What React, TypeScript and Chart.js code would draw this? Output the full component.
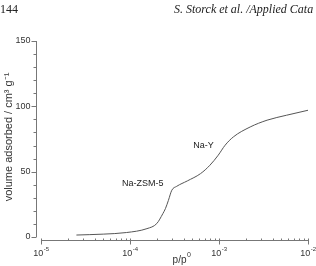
import React, { useEffect, useRef } from "react";
import { Chart, registerables } from "chart.js";

Chart.register(...registerables);

// Relative pressure p/p0 and adsorbed volume (cm3 g-1)
const relativePressure = [
  2.5e-5, 5.0e-5, 9.1e-5, 1.55e-4, 2.0e-4, 2.34e-4, 2.5e-4, 2.7e-4, 2.95e-4,
  3.35e-4, 4.4e-4, 6.2e-4, 7.9e-4, 9.8e-4, 1.17e-3, 1.45e-3, 2.24e-3, 3.47e-3,
  5.75e-3, 1e-2,
];
const volumeAdsorbed = [
  1.5, 2.2, 3.4, 6.4, 10.3, 17.9, 21.7, 28, 35.8, 38.8, 42.9, 48.5, 54.9, 62.6,
  70.2, 76.6, 84.2, 89.4, 93.2, 97,
];
const xDecadeExponents = [-5, -4, -3, -2];
const yMajorTicks = [0, 50, 100, 150];
const yMinorTicks = [10, 20, 30, 40, 60, 70, 80, 90, 110, 120, 130, 140];
const annotationLabels = ["Na-Y", "Na-ZSM-5"];
const annotationX = [6.7e-4, 1.39e-4];
const annotationY = [70.2, 40.9];
const yAxisTitle = "volume adsorbed / cm\u00B3 g\u207B\u00B9";
const headerLeft = "144";
const headerRight = "S. Storck et al. /Applied Cata";

const SANS = '"Liberation Sans", Arial, sans-serif';
const SERIF = '"Liberation Serif", "Times New Roman", serif';

const axesPlugin = {
  id: "customAxes",
  afterDraw(chart: any) {
    const ctx = chart.ctx as CanvasRenderingContext2D;
    const xs = chart.scales.x;
    const ys = chart.scales.y;
    const area = chart.chartArea;
    ctx.save();
    const axisColor = "#777";
    const textColor = "#333";

    // header
    ctx.fillStyle = "#222";
    ctx.font = `12px ${SERIF}`;
    ctx.textBaseline = "alphabetic";
    ctx.textAlign = "left";
    ctx.fillText(headerLeft, 0, 13);
    ctx.font = `italic 12px ${SERIF}`;
    ctx.fillText(headerRight, 174, 13);

    // y axis
    const yx = Math.round(area.left - 5) + 0.5;
    ctx.strokeStyle = axisColor;
    ctx.lineWidth = 1;
    ctx.beginPath();
    ctx.moveTo(yx, ys.getPixelForValue(150));
    ctx.lineTo(yx, ys.getPixelForValue(0));
    for (const v of yMajorTicks) {
      const p = Math.round(ys.getPixelForValue(v)) + 0.5;
      ctx.moveTo(yx - 5, p);
      ctx.lineTo(yx, p);
    }
    for (const v of yMinorTicks) {
      const p = Math.round(ys.getPixelForValue(v)) + 0.5;
      ctx.moveTo(yx - 3, p);
      ctx.lineTo(yx, p);
    }
    ctx.stroke();
    ctx.fillStyle = textColor;
    ctx.font = `9px ${SANS}`;
    ctx.textAlign = "right";
    ctx.textBaseline = "middle";
    for (const v of yMajorTicks) {
      ctx.fillText(String(v), yx - 6, ys.getPixelForValue(v));
    }

    // x axis
    const xy = Math.round(area.bottom + 3) + 0.5;
    ctx.beginPath();
    ctx.moveTo(xs.getPixelForValue(1e-5), xy);
    ctx.lineTo(xs.getPixelForValue(1e-2), xy);
    for (const e of xDecadeExponents) {
      const p = Math.round(xs.getPixelForValue(Math.pow(10, e))) + 0.5;
      ctx.moveTo(p, xy - 2);
      ctx.lineTo(p, xy + 4);
      if (e < -2) {
        for (let k = 2; k <= 9; k++) {
          const pm = Math.round(xs.getPixelForValue(k * Math.pow(10, e))) + 0.5;
          ctx.moveTo(pm, xy - 2);
          ctx.lineTo(pm, xy);
        }
      }
    }
    ctx.stroke();

    // x tick labels 10^e
    for (const e of xDecadeExponents) {
      const p = xs.getPixelForValue(Math.pow(10, e));
      ctx.font = `9px ${SANS}`;
      const wb = ctx.measureText("10").width;
      ctx.font = `6px ${SANS}`;
      const sup = String(e);
      const ws = ctx.measureText(sup).width;
      const start = p - (wb + ws) / 2;
      ctx.textAlign = "left";
      ctx.textBaseline = "alphabetic";
      ctx.font = `9px ${SANS}`;
      ctx.fillText("10", start, 256);
      ctx.font = `6px ${SANS}`;
      ctx.fillText(sup, start + wb + 0.5, 251);
    }

    // x title p/p0
    ctx.font = `10px ${SANS}`;
    const base = "p/p";
    const wBase = ctx.measureText(base).width;
    ctx.font = `7px ${SANS}`;
    const wSup = ctx.measureText("0").width;
    const cx = (area.left + area.right) / 2 + 7;
    const sx = cx - (wBase + wSup) / 2;
    ctx.font = `10px ${SANS}`;
    ctx.fillText(base, sx, 263);
    ctx.font = `7px ${SANS}`;
    ctx.fillText("0", sx + wBase + 0.5, 257);

    // y title
    ctx.save();
    ctx.translate(12, 137);
    ctx.rotate(-Math.PI / 2);
    ctx.textAlign = "center";
    ctx.textBaseline = "alphabetic";
    ctx.font = `11px ${SANS}`;
    ctx.fillText(yAxisTitle, 0, 0);
    ctx.restore();

    // annotations
    ctx.font = `9px ${SANS}`;
    ctx.textAlign = "center";
    ctx.textBaseline = "middle";
    ctx.fillStyle = "#222";
    annotationLabels.forEach((t, i) => {
      ctx.fillText(t, xs.getPixelForValue(annotationX[i]), ys.getPixelForValue(annotationY[i]));
    });

    ctx.restore();
  },
};

export default function App() {
  const ref = useRef<HTMLCanvasElement | null>(null);
  useEffect(() => {
    document.body.style.margin = "0";
    const canvas = ref.current;
    if (!canvas) return;
    const chart = new Chart(canvas, {
      type: "line",
      data: {
        datasets: [
          {
            data: relativePressure.map((x, i) => ({ x, y: volumeAdsorbed[i] })),
            borderColor: "#555",
            borderWidth: 1,
            pointRadius: 0,
            cubicInterpolationMode: "monotone",
            fill: false,
          },
        ],
      },
      options: {
        responsive: false,
        animation: false,
        devicePixelRatio: 1,
        layout: { padding: { left: 41, right: 8, top: 41, bottom: 29 } },
        scales: {
          x: { type: "logarithmic", min: 1e-5, max: 1e-2, display: false },
          y: { type: "linear", min: 0, max: 150, display: false },
        },
        plugins: { legend: { display: false }, tooltip: { enabled: false } },
      },
      plugins: [axesPlugin],
    });
    return () => chart.destroy();
  }, []);
  return (
    <div style={{ width: 316, height: 266, background: "#fff" }}>
      <canvas ref={ref} width={316} height={266} style={{ display: "block" }} />
    </div>
  );
}
